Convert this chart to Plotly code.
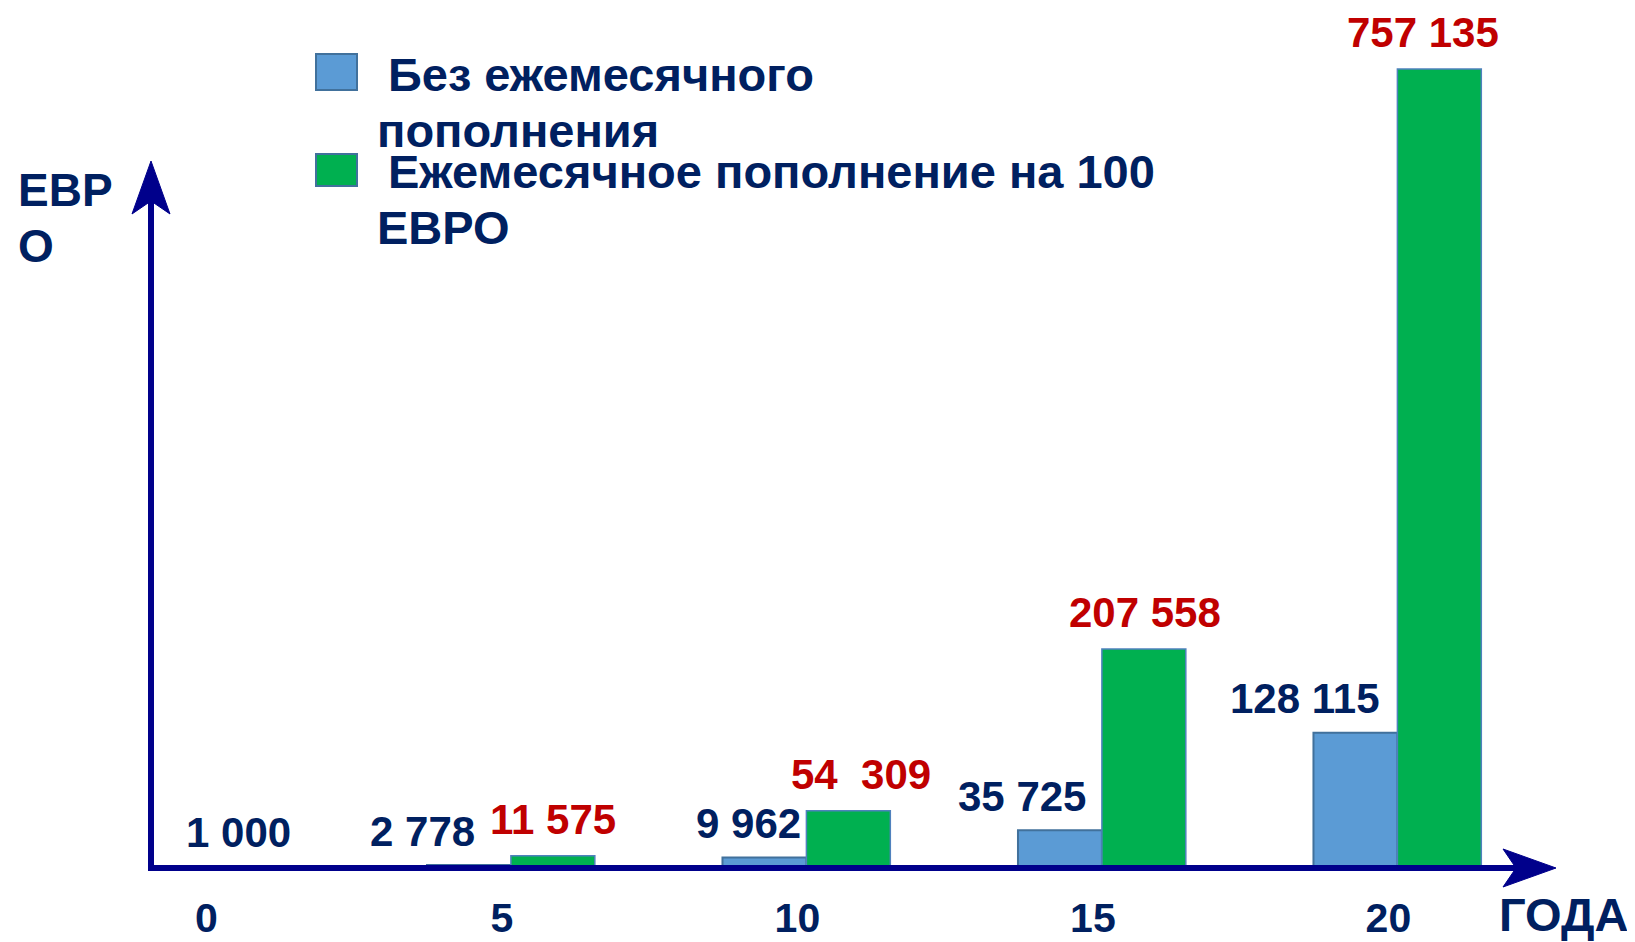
import plotly.graph_objects as go

# ---------------- data ----------------
years = [0, 5, 10, 15, 20]
tick_labels = ["0", "5", "10", "15", "20"]
no_topup = [1000, 2778, 9962, 35725, 128115]            # Без ежемесячного пополнения
with_topup = [None, 11575, 54309, 207558, 757135]        # Ежемесячное пополнение на 100 ЕВРО
no_topup_labels = ["1 000", "2 778", "9 962", "35 725", "128 115"]
with_topup_labels = ["", "11 575", "54\u00a0 309", "207 558", "757 135"]
legend_names = ["Без ежемесячного пополнения", "Ежемесячное пополнение на 100 ЕВРО"]

# ---------------- styling ----------------
W, H = 1635, 942
OFF = 8                                   # page body margin
L, R, T, B = 151, 81, 40, 74               # plot-area edges as seen in the photographed page
PW, PH = W - L - R, H - T - B
NAVY = "#002060"
RED = "#C00000"
AXIS = "#00008B"
BLUE = "#5B9BD5"
GREEN = "#00B050"
EDGE = "#41719C"
FONT = "Liberation Sans, Arial, sans-serif"
bw = 1.42                      # bar width in years
blue_offsets = [-bw / 2, -bw, -bw, -bw, -bw]
blue_label_dx = [23, -46, -16, -38, -50]
green_label_dx = [0, 0, 13, 1, -16]
xr = [-1.09, 22.65]
yr = [0, 784600]


def px(x):
    return (x - L) / PW


def py(y):
    return (H - B - y) / PH


fig = go.Figure()
fig.add_trace(go.Bar(
    x=years, y=no_topup, name=legend_names[0], width=bw, offset=blue_offsets,
    marker=dict(color=BLUE, line=dict(color=EDGE, width=2)), showlegend=False,
))
fig.add_trace(go.Bar(
    x=years, y=with_topup, name=legend_names[1], width=bw, offset=0,
    marker=dict(color=GREEN, line=dict(color="#4F81BD", width=1.5)), showlegend=False,
))

ann = []
for i, yv in enumerate(years):
    ann.append(dict(x=yv + blue_offsets[i] + bw / 2, y=no_topup[i], xref="x", yref="y",
                    text=no_topup_labels[i], showarrow=False, xanchor="center", yanchor="middle",
                    xshift=blue_label_dx[i], yshift=34,
                    font=dict(family=FONT, size=42, color=NAVY, weight="bold")))
    if with_topup[i] is not None:
        ann.append(dict(x=yv + bw / 2, y=with_topup[i], xref="x", yref="y",
                        text=with_topup_labels[i], showarrow=False, xanchor="center", yanchor="middle",
                        xshift=green_label_dx[i], yshift=36,
                        font=dict(family=FONT, size=42, color=RED, weight="bold")))

# axis titles
ann.append(dict(x=px(16), y=py(190), xref="paper", yref="paper", text="ЕВР", showarrow=False,
                xanchor="left", yanchor="middle", font=dict(family=FONT, size=46, color=NAVY, weight="bold")))
ann.append(dict(x=px(16), y=py(246), xref="paper", yref="paper", text="О", showarrow=False,
                xanchor="left", yanchor="middle", font=dict(family=FONT, size=46, color=NAVY, weight="bold")))
ann.append(dict(x=px(1563), y=py(914), xref="paper", yref="paper", text="ГОДА", showarrow=False,
                xanchor="center", yanchor="middle", font=dict(family=FONT, size=47, color=NAVY, weight="bold")))

# legend (drawn manually)
leg_lines = [("Без ежемесячного", 386, 75), ("пополнения", 375, 130),
             ("Ежемесячное пополнение на 100", 386, 171), ("ЕВРО", 375, 227)]
for txt, lx, ly in leg_lines:
    ann.append(dict(x=px(lx), y=py(ly), xref="paper", yref="paper", text=txt, showarrow=False,
                    xanchor="left", yanchor="middle",
                    font=dict(family=FONT, size=47, color=NAVY, weight="bold")))

shapes = []
# legend swatches
shapes.append(dict(type="rect", xref="paper", yref="paper", x0=px(316), x1=px(357), y0=py(90), y1=py(54),
                   fillcolor=BLUE, line=dict(color=EDGE, width=2)))
shapes.append(dict(type="rect", xref="paper", yref="paper", x0=px(316), x1=px(357), y0=py(186), y1=py(154),
                   fillcolor=GREEN, line=dict(color=EDGE, width=2)))

# axes with arrows
ax_y = H - B
shapes.append(dict(type="line", xref="paper", yref="paper", x0=px(151), x1=px(151), y0=py(ax_y + 3), y1=py(195),
                   line=dict(color=AXIS, width=6)))
shapes.append(dict(type="line", xref="paper", yref="paper", x0=px(148), x1=px(1535), y0=py(ax_y), y1=py(ax_y),
                   line=dict(color=AXIS, width=6)))


def path(pts):
    return "M " + " L ".join(f"{px(a):.5f},{py(b):.5f}" for a, b in pts) + " Z"


shapes.append(dict(type="path", xref="paper", yref="paper",
                   path=path([(151, 161), (170, 214), (151, 201), (132, 214)]),
                   fillcolor=AXIS, line=dict(color=AXIS, width=1)))
shapes.append(dict(type="path", xref="paper", yref="paper",
                   path=path([(1556, ax_y), (1503, ax_y - 19), (1516, ax_y), (1503, ax_y + 19)]),
                   fillcolor=AXIS, line=dict(color=AXIS, width=1)))

fig.update_layout(
    width=W, height=H,
    margin=dict(l=L - OFF, r=R + OFF, t=T - OFF, b=B + OFF, autoexpand=False),
    paper_bgcolor="white", plot_bgcolor="white",
    barmode="overlay",
    xaxis=dict(range=xr, tickvals=years, ticktext=tick_labels, showgrid=False, zeroline=False,
               showline=False, ticks="", ticklabelstandoff=22, ticklabelshift=-9, automargin=False,
               tickfont=dict(family=FONT, size=41, color=NAVY, weight="bold")),
    yaxis=dict(range=yr, visible=False, showgrid=False, zeroline=False, automargin=False),
    annotations=ann,
    shapes=shapes,
)

fig.write_html("out.html")
